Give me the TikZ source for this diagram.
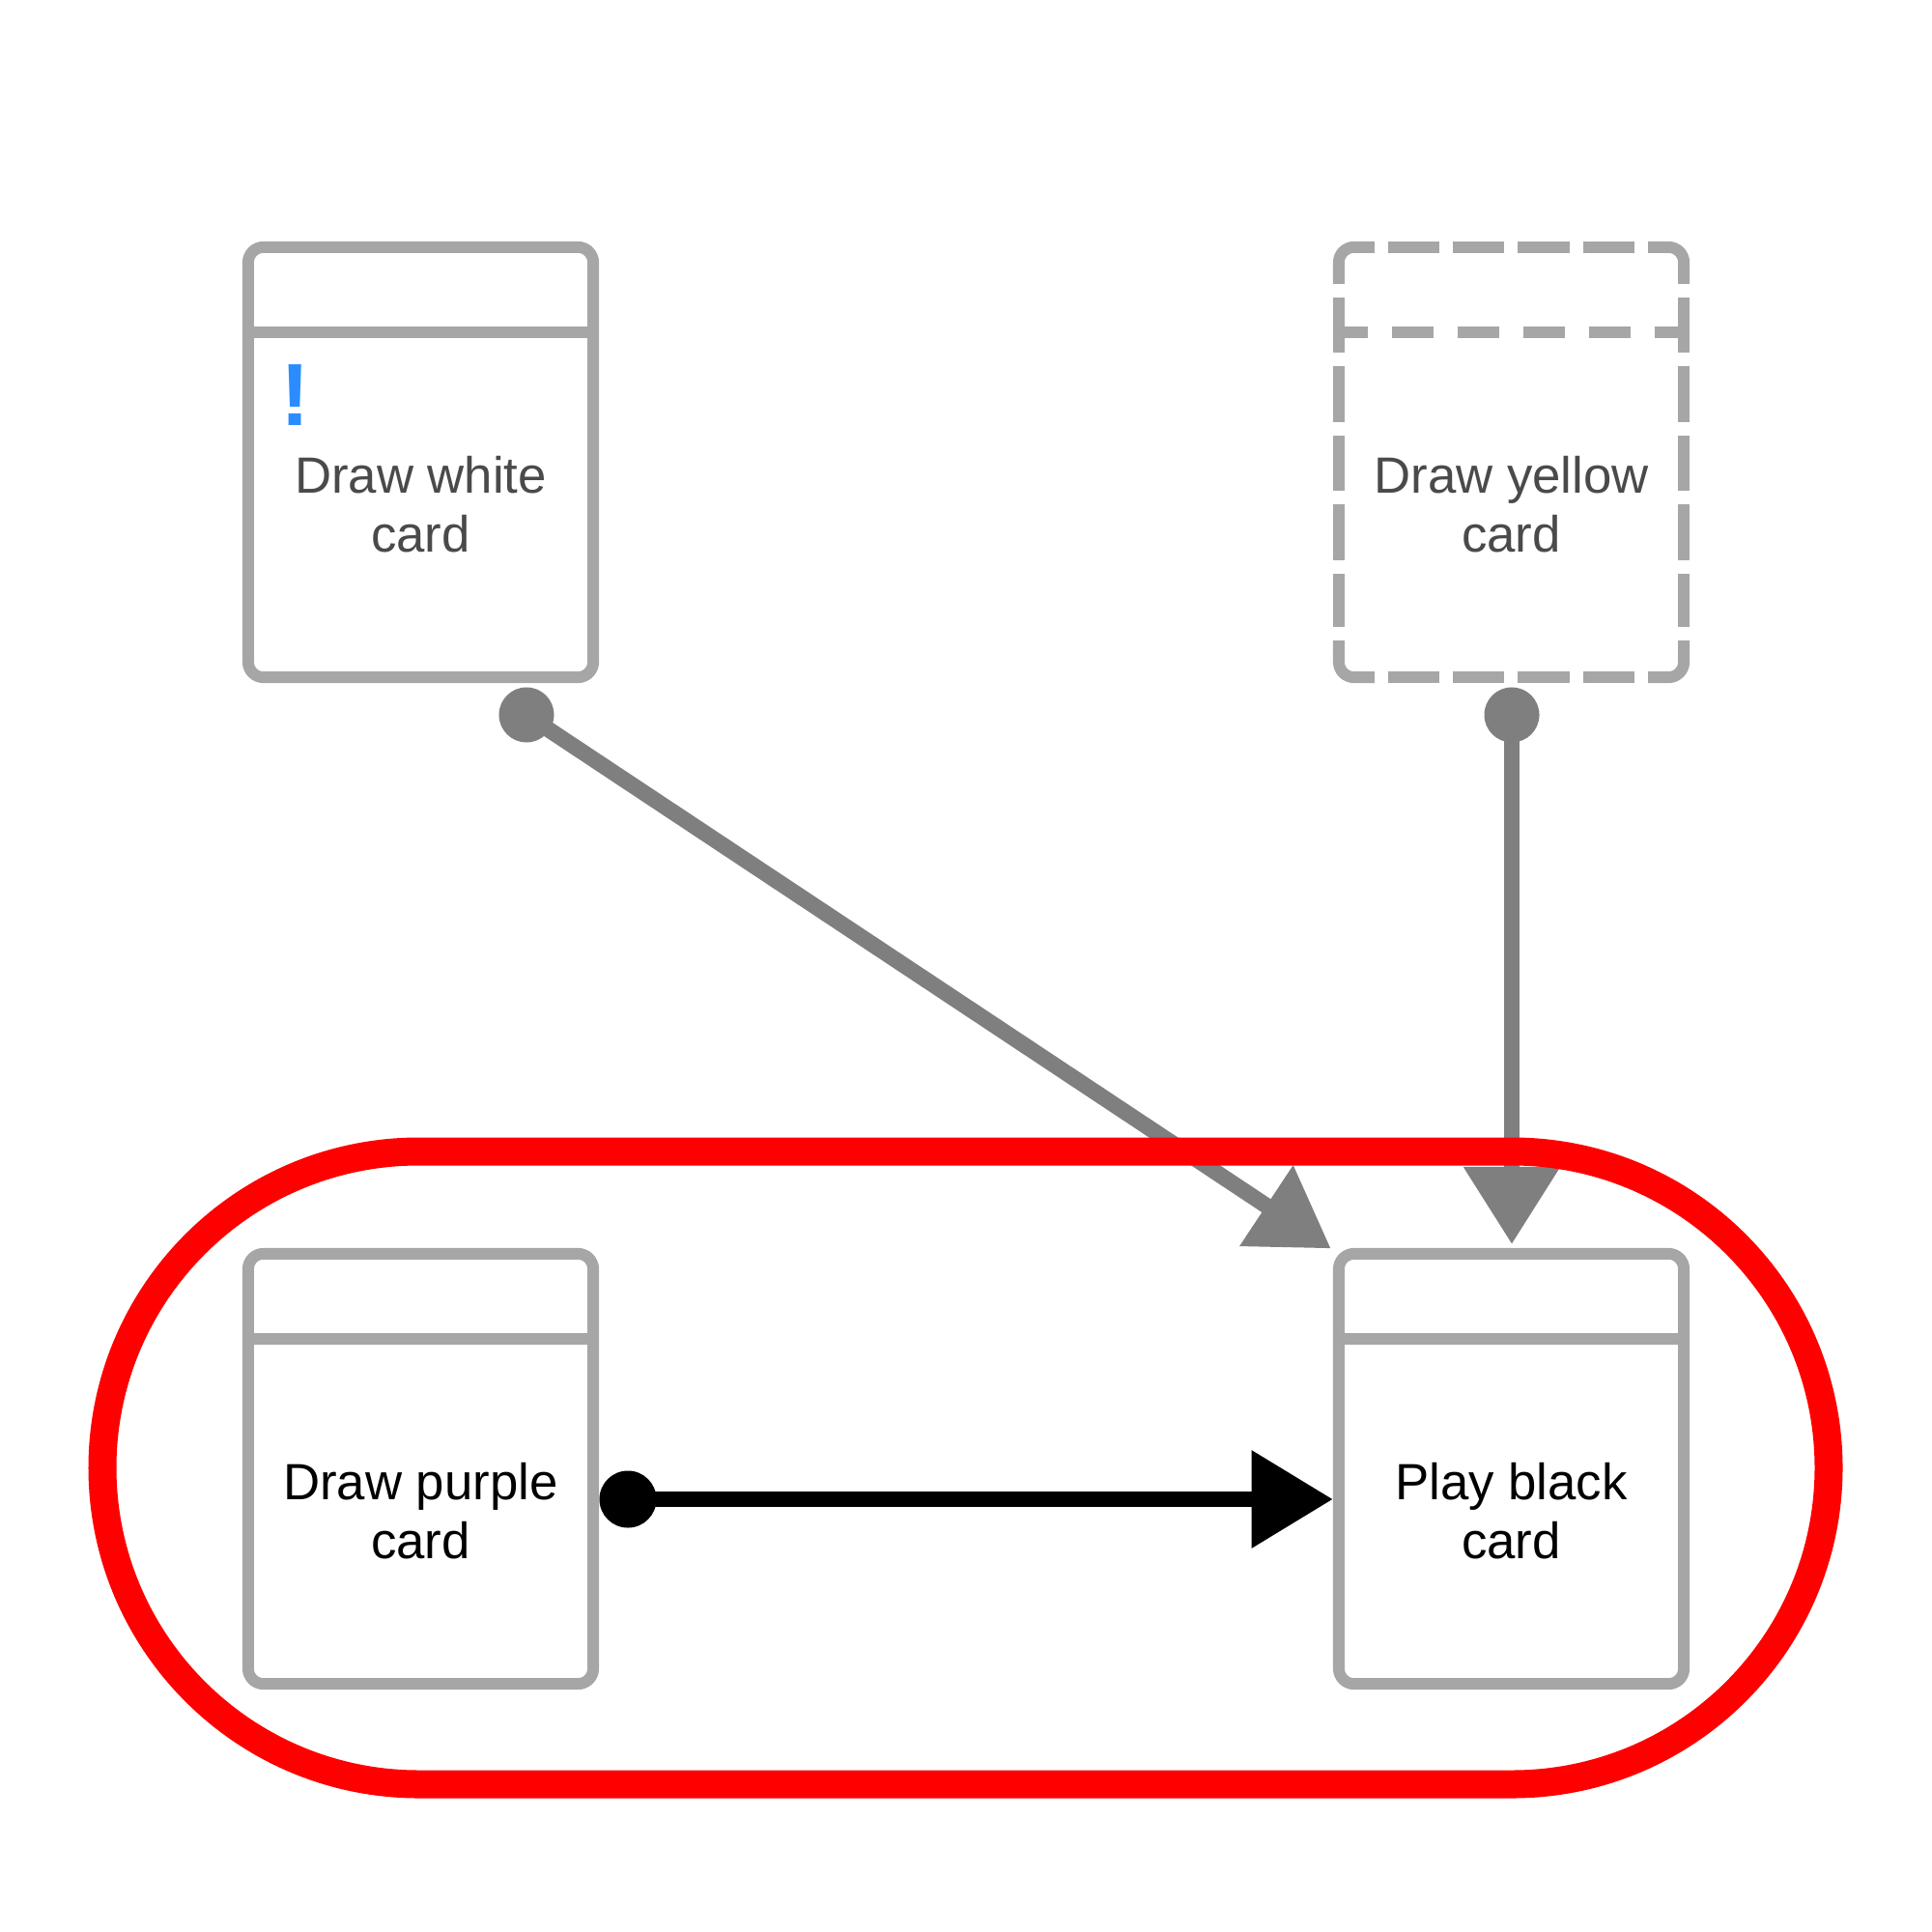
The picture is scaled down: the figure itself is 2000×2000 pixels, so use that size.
\documentclass[tikz,border=0pt]{standalone}
\usepackage{fontspec}
\setmainfont{Liberation Sans}
\usetikzlibrary{arrows.meta,calc}
\definecolor{cardgray}{HTML}{A6A6A6}
\definecolor{linkgray}{HTML}{7F7F7F}
\definecolor{alertblue}{HTML}{2B8CFF}
\definecolor{fadedtext}{HTML}{4A4A4A}
\definecolor{groupred}{HTML}{FF0000}
\begin{document}
\begin{tikzpicture}[x=0.01cm,y=-0.01cm,
  card/.style={draw=cardgray, line width=3.4pt, rounded corners=4.5pt,
    minimum width=3.57cm, minimum height=4.45cm, inner sep=0pt, outer sep=0pt, fill=white},
  cardline/.style={draw=cardgray, line width=3.4pt},
  ghostcorner/.style={cardline, rounded corners=4.5pt},
  ghostwide/.style={cardline, dash pattern=on 15.15pt off 3.98pt},
  ghosttall/.style={cardline, dash pattern=on 16.33pt off 3.98pt},
  ghostdivider/.style={cardline, dash pattern=on 12.2pt off 7.1pt, dash phase=3.6pt},
  cardtext/.style={align=center, font=\fontsize{15pt}{17.4pt}\selectfont, inner sep=0pt},
  fadedcardtext/.style={cardtext, text=fadedtext},
  gdot/.style={circle, fill=linkgray, minimum size=0.57cm, inner sep=0pt, outer sep=0pt},
  bdot/.style={circle, fill=black, minimum size=0.59cm, inner sep=0pt, outer sep=0pt},
  glink/.style={draw=linkgray, line width=4.7pt, -{Triangle[length=22.8pt,width=27.3pt]}, shorten >=2.8pt},
  blink/.style={draw=black, line width=4.8pt, -{Triangle[length=24pt,width=27.6pt]}, shorten >=1.7pt},
  group/.style={draw=groupred, line width=8.25pt, rounded corners=3.275cm}
]
\useasboundingbox (0,0) rectangle (2000,2000);

% cards
\node[card] (A) at (435.5,478.5) {};
\node[card, draw=none] (B) at (1564.5,478.5) {};
\node[card] (C) at (435.5,1520.5) {};
\node[card] (D) at (1564.5,1520.5) {};

% dashed outline of the optional card: solid corners, dashed sides
\draw[ghostcorner] ($(B.north west)+(0,38)$) -- (B.north west) -- ($(B.north west)+(37,0)$);
\draw[ghostcorner] ($(B.north east)+(-37,0)$) -- (B.north east) -- ($(B.north east)+(0,38)$);
\draw[ghostcorner] ($(B.south east)+(0,-38)$) -- (B.south east) -- ($(B.south east)+(-37,0)$);
\draw[ghostcorner] ($(B.south west)+(37,0)$) -- (B.south west) -- ($(B.south west)+(0,-38)$);
\draw[ghostwide] ($(B.north west)+(51,0)$) -- ($(B.north east)+(-51,0)$);
\draw[ghostwide] ($(B.south west)+(51,0)$) -- ($(B.south east)+(-51,0)$);
\draw[ghosttall] ($(B.north west)+(0,52)$) -- ($(B.south west)+(0,-52)$);
\draw[ghosttall] ($(B.north east)+(0,52)$) -- ($(B.south east)+(0,-52)$);

% header dividers
\draw[cardline] ($(A.north west)+(0,88)$) -- ($(A.north east)+(0,88)$);
\draw[ghostdivider] ($(B.north west)+(0,88)$) -- ($(B.north east)+(0,88)$);
\draw[cardline] ($(C.north west)+(0,88)$) -- ($(C.north east)+(0,88)$);
\draw[cardline] ($(D.north west)+(0,88)$) -- ($(D.north east)+(0,88)$);

% card labels
\node[fadedcardtext] (At) at ($(A.north)+(0,266.5)$) {Draw white\\card};
\node[fadedcardtext] (Bt) at ($(B.north)+(0,266.5)$) {Draw yellow\\card};
\node[cardtext] (Ct) at ($(C.north)+(0,266.5)$) {Draw purple\\card};
\node[cardtext] (Dt) at ($(D.north)+(0,266.5)$) {Play black\\card};
\node[font=\fontsize{26pt}{26pt}\selectfont\bfseries, text=alertblue, inner sep=0pt] (Ax) at (306,409) {!};

% connectors
\node[gdot] (wd) at (545,740) {};
\node[gdot] (yd) at (1565,740) {};
\node[bdot] (pd) at (650,1552) {};
\draw[glink] (wd.center) -- (D.north west);
\draw[glink] (yd.center) -- (yd |- D.north);
\draw[blink] (pd.center) -- (pd -| D.west);

% group outline
\draw[group] (106,1192) rectangle (1893,1847);
\end{tikzpicture}
\end{document}
